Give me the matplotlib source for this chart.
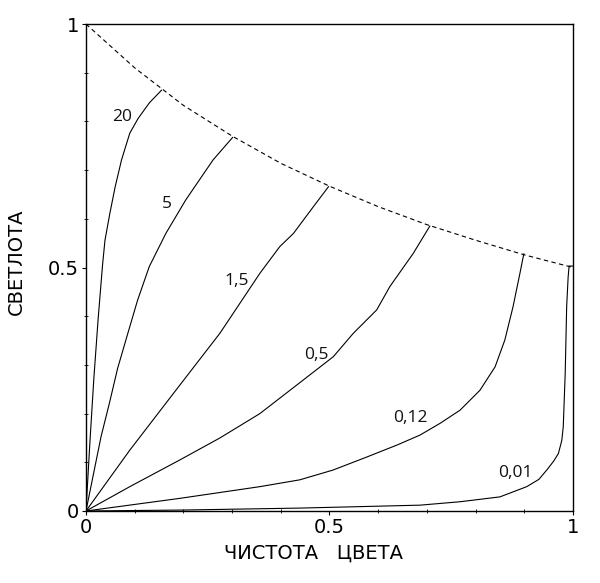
import matplotlib
matplotlib.use("Agg")
import matplotlib.pyplot as plt
from matplotlib.ticker import MultipleLocator

# boundary (dashed) curve
boundary_x = [0.0, 0.1, 0.2, 0.3, 0.4, 0.5, 0.6, 0.7, 0.8, 0.9, 1.0]
boundary_y = [1.0, 0.91, 0.833, 0.77, 0.714, 0.667, 0.625, 0.588, 0.556, 0.526, 0.5]

# family of curves, one per parameter value
curve_labels = ["20", "5", "1,5", "0,5", "0,12", "0,01"]
curve_x = [
    [0.0, 0.008, 0.016, 0.025, 0.034, 0.039, 0.049, 0.060, 0.073, 0.090, 0.107, 0.130, 0.155],
    [0.0, 0.017, 0.031, 0.048, 0.065, 0.086, 0.106, 0.130, 0.164, 0.205, 0.233, 0.261, 0.301],
    [0.0, 0.090, 0.190, 0.275, 0.357, 0.398, 0.426, 0.467, 0.498],
    [0.0, 0.090, 0.193, 0.275, 0.357, 0.450, 0.508, 0.549, 0.597, 0.624, 0.672, 0.706],
    [0.0, 0.193, 0.357, 0.439, 0.507, 0.577, 0.640, 0.686, 0.727, 0.768, 0.809, 0.840,
     0.860, 0.877, 0.891, 0.899],
    [0.0, 0.200, 0.440, 0.686, 0.768, 0.850, 0.905, 0.930, 0.946, 0.960, 0.970, 0.977,
     0.980, 0.984, 0.987, 0.990, 0.992, 1.0],
]
curve_y = [
    [0.0, 0.140, 0.270, 0.395, 0.505, 0.556, 0.611, 0.666, 0.721, 0.776, 0.806, 0.838, 0.864],
    [0.0, 0.084, 0.153, 0.221, 0.293, 0.365, 0.433, 0.502, 0.570, 0.639, 0.680, 0.721, 0.767],
    [0.0, 0.125, 0.255, 0.365, 0.488, 0.543, 0.570, 0.625, 0.666],
    [0.0, 0.050, 0.105, 0.150, 0.200, 0.272, 0.317, 0.365, 0.413, 0.461, 0.529, 0.585],
    [0.0, 0.026, 0.050, 0.064, 0.084, 0.111, 0.136, 0.156, 0.180, 0.207, 0.248, 0.296,
     0.351, 0.420, 0.488, 0.528],
    [0.0, 0.002, 0.006, 0.012, 0.019, 0.029, 0.050, 0.065, 0.084, 0.102, 0.118, 0.145,
     0.173, 0.283, 0.420, 0.480, 0.503, 0.503],
]
label_x = [0.074, 0.166, 0.310, 0.474, 0.667, 0.881]
label_y = [0.809, 0.630, 0.472, 0.320, 0.191, 0.078]

fig = plt.figure(figsize=(6.0, 5.83), dpi=100)
ax = fig.add_axes([0.1433, 0.1235, 0.8117, 0.8353])

ax.plot(boundary_x, boundary_y, color="black", lw=0.8, linestyle=(0, (4, 3)))
for xs, ys in zip(curve_x, curve_y):
    ax.plot(xs, ys, color="black", lw=0.8)

for text, tx, ty in zip(curve_labels, label_x, label_y):
    ax.text(tx, ty, text, fontsize=12.5, family="Open Sans", ha="center", va="center",
            color="#111111")

ax.set_xlim(0, 1)
ax.set_ylim(0, 1)
ax.set_xticks([0, 0.5, 1])
ax.set_yticks([0, 0.5, 1])
ax.set_xticklabels(["0", "0.5", "1"])
ax.set_yticklabels(["0", "0.5", "1"])
ax.xaxis.set_minor_locator(MultipleLocator(0.1))
ax.yaxis.set_minor_locator(MultipleLocator(0.1))
ax.tick_params(which="major", direction="out", length=3, width=0.8, labelsize=14, pad=2)
ax.tick_params(which="minor", direction="inout", length=3, width=0.6)
ax.tick_params(top=False, right=False, which="both")
for lab in ax.get_xticklabels() + ax.get_yticklabels():
    lab.set_family("DejaVu Sans")

for spine in ax.spines.values():
    spine.set_linewidth(1.0)

ax.set_xlabel("ЧИСТОТА   ЦВЕТА", fontsize=14, family="DejaVu Sans")
ax.set_ylabel("СВЕТЛОТА", fontsize=14, family="DejaVu Sans")
ax.xaxis.set_label_coords(0.467, -0.068)
ax.yaxis.set_label_coords(-0.123, 0.511)

fig.savefig("out.png", dpi=100)
